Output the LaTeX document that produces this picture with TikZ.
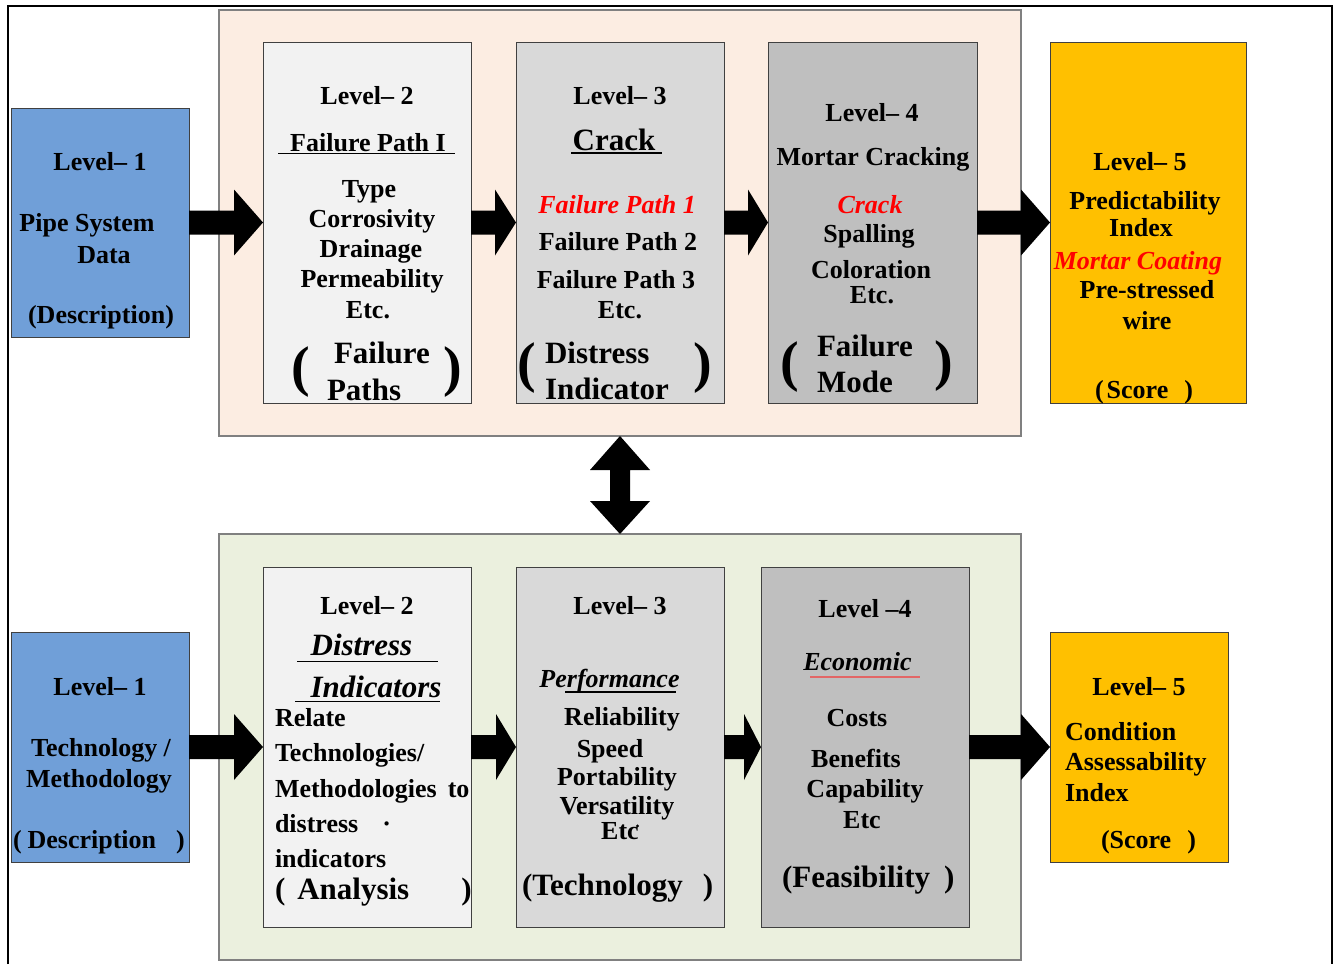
\documentclass[tikz,border=0pt]{standalone}
\usepackage{fontspec}
\setmainfont{Liberation Serif}
\usetikzlibrary{calc}

\definecolor{peachbg}{RGB}{252,237,226}
\definecolor{greenbg}{RGB}{235,240,222}
\definecolor{lvlblue}{RGB}{112,159,216}
\definecolor{lvltwo}{RGB}{242,242,242}
\definecolor{lvlthree}{RGB}{217,217,217}
\definecolor{lvlfour}{RGB}{191,191,191}
\definecolor{lvlfive}{RGB}{255,192,0}
\definecolor{boxline}{RGB}{64,64,64}
\definecolor{panelline}{RGB}{128,128,128}
\definecolor{softred}{RGB}{226,102,102}

% thick block arrow from the east side of #1 to the west side of #2, head length #3
\newcommand{\fatarrow}[3]{%
  \fill let \p1=(#1.east), \p2=(#2.west) in
    (\x1,\y1+12pt) -- (\x2-#3,\y1+12pt) -- (\x2-#3,\y1+33pt) -- (\x2,\y1)
    -- (\x2-#3,\y1-33pt) -- (\x2-#3,\y1-12pt) -- (\x1,\y1-12pt) -- cycle;}

\tikzset{
  panel/.style={draw=panelline, line width=1.5pt, inner sep=0pt, outer sep=0pt},
  lvlbox/.style={draw=boxline, line width=1pt, inner sep=0pt, outer sep=0pt},
  txt/.style={inner sep=0pt, outer sep=0pt, anchor=base, font=\fontsize{26}{30}\selectfont\bfseries},
  txtl/.style={txt, anchor=base west},
  bigtxt/.style={txt, font=\fontsize{31}{36}\selectfont\bfseries},
  bigtxtl/.style={bigtxt, anchor=base west},
  itx/.style={txt, font=\fontsize{26}{30}\selectfont\bfseries\itshape},
  bigitx/.style={txt, font=\fontsize{31}{36}\selectfont\bfseries\itshape},
  redtxt/.style={itx, text=red},
  bigparen/.style={inner sep=0pt, outer sep=0pt, anchor=center, font=\fontsize{56}{60}\selectfont\bfseries},
  uline/.style={line width=1.3pt},
}

\begin{document}
\begin{tikzpicture}[x=1pt, y=-1pt]
\useasboundingbox (0,0) rectangle (1338,964);

% outer frame
\draw[line width=2pt] (8,964) -- (8,6) -- (1332,6) -- (1332,964);

% background panels
\node[panel, fill=peachbg, minimum width=802pt, minimum height=426pt] (toppanel) at (620,223) {};
\node[panel, fill=greenbg, minimum width=802pt, minimum height=426pt] (botpanel) at (620,747) {};

% ---------- upper row: failure side ----------
\node[lvlbox, fill=lvlblue,  minimum width=178pt, minimum height=229pt] (l1t) at (100,222.5) {};
\node[lvlbox, fill=lvltwo,   minimum width=208pt, minimum height=361pt] (l2t) at (367,222.5) {};
\node[lvlbox, fill=lvlthree, minimum width=208pt, minimum height=361pt] (l3t) at (620,222.5) {};
\node[lvlbox, fill=lvlfour,  minimum width=209pt, minimum height=361pt] (l4t) at (872.5,222.5) {};
\node[lvlbox, fill=lvlfive,  minimum width=196pt, minimum height=361pt] (l5t) at (1148,222.5) {};

% ---------- lower row: technology side ----------
\node[lvlbox, fill=lvlblue,  minimum width=178pt, minimum height=230pt] (l1b) at (100,747) {};
\node[lvlbox, fill=lvltwo,   minimum width=208pt, minimum height=360pt] (l2b) at (367,747) {};
\node[lvlbox, fill=lvlthree, minimum width=208pt, minimum height=360pt] (l3b) at (620,747) {};
\node[lvlbox, fill=lvlfour,  minimum width=208pt, minimum height=360pt] (l4b) at (865,747) {};
\node[lvlbox, fill=lvlfive,  minimum width=178pt, minimum height=230pt] (l5b) at (1139,747) {};

% block arrows between levels
\fatarrow{l1t}{l2t}{29pt}
\fatarrow{l2t}{l3t}{21pt}
\fatarrow{l3t}{l4t}{20pt}
\fatarrow{l4t}{l5t}{29pt}
\fatarrow{l1b}{l2b}{29pt}
\fatarrow{l2b}{l3b}{20pt}
\fatarrow{l3b}{l4b}{17pt}
\fatarrow{l4b}{l5b}{29pt}

% two-headed arrow linking the panels
\fill let \p1=(toppanel.south), \p2=(botpanel.north) in
  (\x1,\y1) -- (\x1+30pt,\y1-34pt) -- (\x1+10pt,\y1-34pt) -- (\x1+10pt,\y2+33pt)
  -- (\x1+30pt,\y2+33pt) -- (\x2,\y2) -- (\x1-30pt,\y2+33pt) -- (\x1-10pt,\y2+33pt)
  -- (\x1-10pt,\y1-34pt) -- (\x1-30pt,\y1-34pt) -- cycle;

% ---- upper level 1 text
\node[txt] (t1a) at (100,170) {Level– 1};
\node[txt] (t1b) at (87,231) {Pipe System};
\node[txt] (t1c) at (104,263) {Data};
\node[txt] (t1d) at (101,323) {(Description)};

% ---- upper level 2 text
\node[txt] (t2a) at (367,104) {Level– 2};
\node[txt] (t2b) at (368,151) {Failure Path I};
\draw[uline] (278,153.5) -- (455,153.5);
\node[txt] (t2c) at (369,197) {Type};
\node[txt] (t2d) at (372,227) {Corrosivity};
\node[txt] (t2e) at (371,257) {Drainage};
\node[txt] (t2f) at (372,287) {Permeability};
\node[txt] (t2g) at (368,318) {Etc.};
\node[bigparen] (t2h) at (301,372) {(};
\node[bigparen] (t2i) at (453,372) {)};
\node[bigtxtl] (t2j) at (334,363) {Failure};
\node[bigtxtl] (t2k) at (327,400) {Paths};

% ---- upper level 3 text
\node[txt] (t3a) at (620,104) {Level– 3};
\node[bigtxt] (t3b) at (614,150) {Crack};
\draw[uline] (571,153) -- (662,153);
\node[redtxt] (t3c) at (617,213) {Failure Path 1};
\node[txt] (t3d) at (618,250) {Failure Path 2};
\node[txt] (t3e) at (616,288) {Failure Path 3};
\node[txt] (t3f) at (620,318) {Etc.};
\node[bigparen] (t3g) at (527,368) {(};
\node[bigparen] (t3h) at (703,368) {)};
\node[bigtxtl] (t3i) at (545,363) {Distress};
\node[bigtxtl] (t3j) at (545,399) {Indicator};

% ---- upper level 4 text
\node[txt] (t4a) at (872,121) {Level– 4};
\node[txt] (t4b) at (873,165) {Mortar Cracking};
\node[redtxt] (t4c) at (870,213) {Crack};
\node[txt] (t4d) at (869,242) {Spalling};
\node[txt] (t4e) at (871,278) {Coloration};
\node[txt] (t4f) at (872,303) {Etc.};
\node[bigparen] (t4g) at (790,367) {(};
\node[bigparen] (t4h) at (944,366) {)};
\node[bigtxtl] (t4i) at (817,356) {Failure};
\node[bigtxtl] (t4j) at (817,392) {Mode};

% ---- upper level 5 text
\node[txt] (t5a) at (1140,170) {Level– 5};
\node[txt] (t5b) at (1145,209) {Predictability};
\node[txt] (t5c) at (1141,236) {Index};
\node[redtxt] (t5d) at (1138,269) {Mortar Coating};
\node[txt] (t5e) at (1147,298) {Pre-stressed};
\node[txt] (t5f) at (1147,329) {wire};
\node[txtl] (t5g) at (1095,398) {(\hspace{3pt}Score\hspace{16pt})};

% ---- lower level 1 text
\node[txt] (b1a) at (100,695) {Level– 1};
\node[txt] (b1b) at (101,756) {Technology /};
\node[txt] (b1c) at (99,787) {Methodology};
\node[txtl] (b1d) at (13,848) {(\hspace{6pt}Description\hspace{20pt})};

% ---- lower level 2 text
\node[txt] (b2a) at (367,614) {Level– 2};
\node[bigitx] (b2b) at (361.5,655) {Distress};
\draw[uline] (297,661.5) -- (438,661.5);
\node[bigitx] (b2c) at (376,697) {Indicators};
\draw[uline] (295,701.5) -- (440,701.5);
\node[txtl] (b2d) at (275,726) {Relate};
\node[txtl] (b2e) at (275,761) {Technologies/};
\node[txtl] (b2f) at (275,797) {Methodologies\hspace{11pt}to};
\node[txtl] (b2g) at (275,832) {distress\hspace{24pt}·};
\node[txtl] (b2h) at (275,867) {indicators};
\node[bigtxtl] (b2i) at (275,899) {(\hspace{12pt}Analysis\hspace{52pt})};

% ---- lower level 3 text
\node[txt] (b3a) at (620,614) {Level– 3};
\node[itx] (b3b) at (609.5,687) {Performance};
\draw[uline] (565,692) -- (676,692);
\node[txt] (b3c) at (622,725) {Reliability};
\node[txt] (b3d) at (610,757) {Speed};
\node[txt] (b3e) at (617,785) {Portability};
\node[txt] (b3f) at (617,814) {Versatility};
\node[txt] (b3g) at (620,839) {Etc};
\fill (637.5,826) circle (1.7);
\node[bigtxtl] (b3h) at (522,895) {(Technology\hspace{20pt})};

% ---- lower level 4 text
\node[txt] (b4a) at (865,617) {Level –4};
\node[itx] (b4b) at (857.5,670) {Economic};
\draw[uline, softred] (810,677) -- (920,677);
\node[txt] (b4c) at (857,726) {Costs};
\node[txt] (b4d) at (856,767) {Benefits};
\node[txt] (b4e) at (865,797) {Capability};
\node[txt] (b4f) at (862,828) {Etc};
\node[bigtxtl] (b4g) at (782,887) {(Feasibility\hspace{14pt})};

% ---- lower level 5 text
\node[txt] (b5a) at (1139,695) {Level– 5};
\node[txtl] (b5b) at (1065,740) {Condition};
\node[txtl] (b5c) at (1065,770) {Assessability};
\node[txtl] (b5d) at (1065,801) {Index};
\node[txtl] (b5e) at (1101,848) {(Score\hspace{16pt})};

\end{tikzpicture}
\end{document}
